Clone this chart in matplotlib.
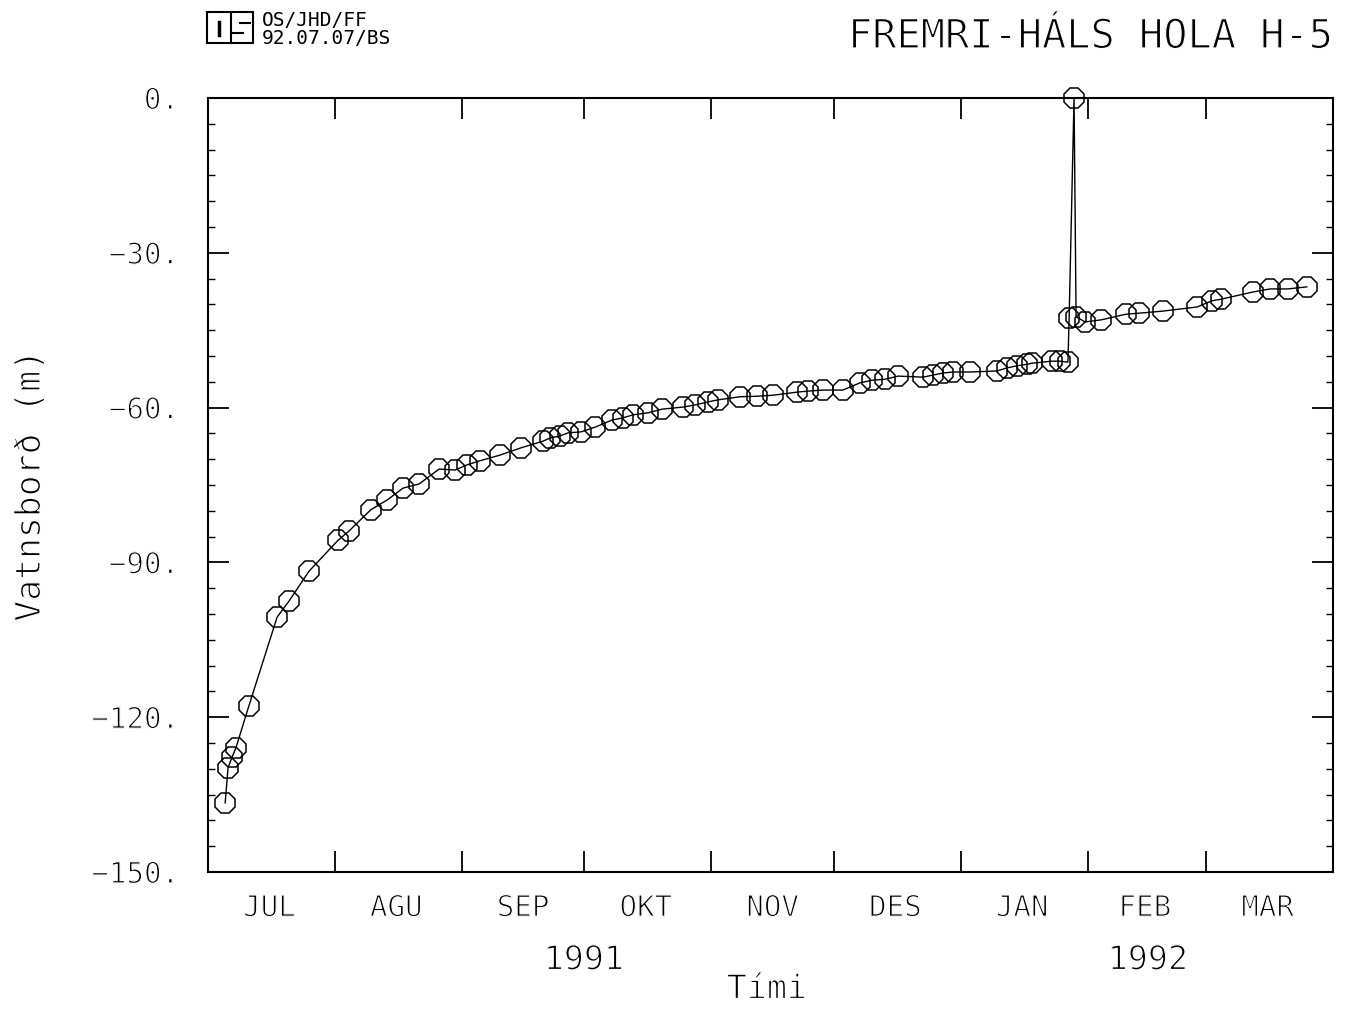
import matplotlib.pyplot as plt
import matplotlib.patheffects as pe
from matplotlib.text import Text
import numpy as np

# Data: days since 1991-07-01 and water level (m)
days = [4.2, 4.9, 5.9, 6.8, 10.0, 16.9, 19.8, 24.7, 31.8, 34.5,
        39.8, 43.8, 47.7, 51.6, 56.5, 60.4, 63.3, 66.5, 71.4, 76.5,
        81.9, 83.6, 86.0, 88.0, 91.2, 94.6, 98.8, 101.4, 103.9, 107.6,
        111.0, 116.1, 119.0, 122.2, 124.7, 130.0, 134.2, 138.1, 144.0, 146.7,
        150.3, 155.2, 159.4, 162.3, 165.5, 168.7, 174.8, 177.2, 179.7, 182.1,
        186.3, 192.9, 195.3, 197.8, 200.2, 201.4, 206.3, 208.3, 210.2, 210.5,
        211.7, 212.2, 214.4, 218.3, 224.4, 227.6, 233.4, 241.8, 245.4, 247.6,
        255.4, 259.6, 264.0, 268.6]
level = [-136.6, -129.8, -127.7, -126.0, -117.8, -100.6, -97.5, -91.7, -85.7, -83.9,
         -79.8, -77.9, -75.6, -74.8, -71.9, -72.1, -71.1, -70.3, -69.2, -67.8,
         -66.5, -65.9, -65.5, -64.9, -64.7, -63.8, -62.4, -62.0, -61.4, -61.0,
         -60.3, -59.9, -59.5, -58.9, -58.5, -57.9, -57.8, -57.6, -57.0, -56.8,
         -56.6, -56.6, -55.2, -54.7, -54.5, -53.9, -54.1, -53.7, -53.3, -53.1,
         -53.1, -52.9, -52.3, -51.9, -51.6, -51.4, -51.0, -51.0, -51.2, -42.6,
         0.0, -42.4, -43.4, -43.0, -41.9, -41.7, -41.3, -40.5, -39.3, -39.0,
         -37.6, -37.0, -37.0, -36.6]
month_labels = ['JUL', 'AGU', 'SEP', 'OKT', 'NOV', 'DES', 'JAN', 'FEB', 'MAR']

start = np.datetime64('1991-07-01T00:00')
dates = start + (np.array(days) * 24 * 60).astype('timedelta64[m]')
# Jul 1991 .. Apr 1992 month boundaries
month_edges = np.arange(np.datetime64('1991-07'), np.datetime64('1992-05'),
                        np.timedelta64(1, 'M')).astype('datetime64[D]')

plt.rcParams['font.family'] = ['DejaVu Sans Mono']

W, H = 1352, 1009
def fx(x):
    return x / W
def fy(y):
    return 1 - y / H

fig = plt.figure(figsize=(W / 100, H / 100), dpi=100)
ax = fig.add_axes([fx(208), fy(872), (1333 - 208) / W, (872 - 98) / H])

ax.plot(dates, level, color='black', lw=1.0, marker='8', ms=16,
        mfc='none', mec='black', mew=1.1, clip_on=False, zorder=3)

ax.set_xlim(month_edges[0], month_edges[-1])
ax.set_ylim(-150, 0)

# x ticks at month boundaries, labels centred in each month
ax.set_xticks(month_edges)
ax.set_xticklabels([])
mids = month_edges[:-1] + (month_edges[1:] - month_edges[:-1]) / 2
ax.set_xticks(mids, minor=True)
ax.set_xticklabels(month_labels, minor=True, fontsize=21)
ax.tick_params(axis='x', which='major', direction='in', length=15, width=1.3,
               top=True, bottom=True)
ax.tick_params(axis='x', which='minor', length=0, pad=16)

ax.set_yticks(np.arange(-150, 1, 30))
ax.set_yticklabels([f'{v}.'.replace('-', '\u2212') for v in range(-150, 1, 30)],
                   fontsize=21)
ax.set_yticks(np.arange(-150, 1, 5), minor=True)
ax.tick_params(axis='y', which='major', direction='in', length=15, width=1.3,
               left=True, right=True, pad=21)
ax.tick_params(axis='y', which='minor', direction='in', length=5, width=1.0,
               left=True, right=True)

for s in ax.spines.values():
    s.set_linewidth(1.5)

fig.text(fx(30), fy(486), 'Vatnsborð (m)', fontsize=25, rotation=90,
         ha='center', va='center')

# year labels and axis title
fig.text(fx(584), fy(960), '1991', fontsize=24, ha='center', va='center')
fig.text(fx(1148), fy(960), '1992', fontsize=24, ha='center', va='center')
fig.text(fx(767), fy(989), 'Tími', fontsize=24, ha='center', va='center')

# title
fig.text(fx(1333), fy(37), 'FREMRI-HÁLS HOLA H-5', fontsize=29,
         ha='right', va='center')

# thin the glyphs a little, like plotter pen lettering
thin = [pe.Normal(), pe.Stroke(linewidth=0.9, foreground='white')]
for t in fig.findobj(Text):
    t.set_path_effects(thin)

# header stamp (left alone, it is small)
fig.text(fx(262), fy(21), 'OS/JHD/FF', fontsize=14, ha='left', va='center')
fig.text(fx(262), fy(38), '92.07.07/BS', fontsize=14, ha='left', va='center')

# small logo box
fig.add_artist(plt.Rectangle((fx(207), fy(43)), 46 / W, 31 / H, fill=False,
                             lw=1.5, transform=fig.transFigure))
for (x0, y0, x1, y1, lw) in [(231, 12, 231, 43, 1.5), (219, 22, 219, 35, 2.5),
                             (231, 33, 243, 33, 1.5), (240, 23, 250, 23, 1.5)]:
    fig.add_artist(plt.Line2D([fx(x0), fx(x1)], [fy(y0), fy(y1)], lw=lw,
                              color='black', transform=fig.transFigure))

fig.savefig('out.png', dpi=100)
